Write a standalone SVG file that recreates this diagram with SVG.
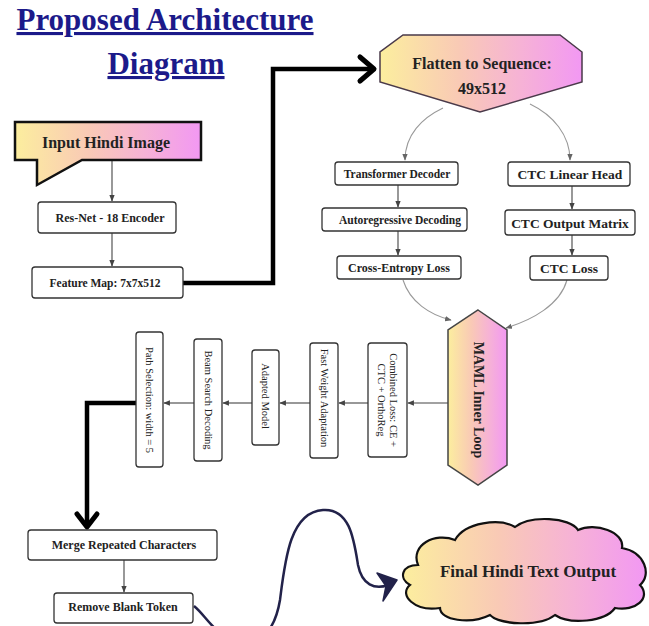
<svg xmlns="http://www.w3.org/2000/svg" width="649" height="626" viewBox="0 0 649 626">
<style>
.t{font-family:"Liberation Serif","Times New Roman",serif;font-weight:bold;fill:#222;text-anchor:middle;dominant-baseline:central}
.v{font-family:"Liberation Serif","Times New Roman",serif;font-size:10.5px;fill:#222;text-anchor:middle;dominant-baseline:central}
.box{fill:#fff;stroke:#333;stroke-width:1.3}
.c{fill:none;stroke:#444;stroke-width:1.1}
.g{fill:none;stroke:#999;stroke-width:1.1}
.thick{fill:none;stroke:#000;stroke-width:4.5;stroke-linejoin:miter}
.head{fill:none;stroke:#000;stroke-width:5;stroke-linecap:round;stroke-linejoin:round}
</style>
<defs>
<linearGradient id="grad" x1="0" y1="0" x2="1" y2="0">
<stop offset="0" stop-color="#fcee9e"/>
<stop offset="0.4" stop-color="#f9c9b6"/>
<stop offset="0.7" stop-color="#f6b2d6"/>
<stop offset="1" stop-color="#f298f3"/>
</linearGradient>
<marker id="a" viewBox="0 0 10 10" refX="9" refY="5" markerWidth="6" markerHeight="6" orient="auto">
<path d="M0,1 L10,5 L0,9 Z" fill="#444"/>
</marker>
<marker id="ag" viewBox="0 0 10 10" refX="9" refY="5" markerWidth="6" markerHeight="6" orient="auto">
<path d="M0,1 L10,5 L0,9 Z" fill="#666"/>
</marker>
</defs>
<rect width="649" height="626" fill="#fff"/>
<g id="title">
<text x="165" y="30" style="font-family:'Liberation Serif',serif;font-weight:bold;font-size:31px;fill:#1c1a8a;text-decoration:underline;text-anchor:middle">Proposed Architecture</text>
<text x="166" y="74" style="font-family:'Liberation Serif',serif;font-weight:bold;font-size:31px;fill:#1c1a8a;text-decoration:underline;text-anchor:middle">Diagram</text>
</g>
<g id="connectors">
<line class="c" x1="112" y1="160" x2="112" y2="201" marker-end="url(#a)"/>
<line class="c" x1="112" y1="233" x2="112" y2="266" marker-end="url(#a)"/>
<polyline class="thick" points="183,283 273,283 273,69 372,69"/>
<path class="head" d="M360,57 L374,69 L360,81"/>
<path class="g" d="M443,108 C422,118 405,135 405,160" marker-end="url(#ag)"/>
<path class="g" d="M530,104 C553,115 570,135 570,160" marker-end="url(#ag)"/>
<line class="c" x1="398" y1="185" x2="398" y2="207" marker-end="url(#a)"/>
<line class="c" x1="398" y1="231" x2="398" y2="255" marker-end="url(#a)"/>
<line class="c" x1="572" y1="186" x2="572" y2="209" marker-end="url(#a)"/>
<line class="c" x1="572" y1="235" x2="572" y2="255" marker-end="url(#a)"/>
<path class="g" d="M403,280 C410,302 430,315 451,320" marker-end="url(#ag)"/>
<path class="g" d="M567,280 C560,305 532,320 506,328" marker-end="url(#ag)"/>
<line class="c" x1="448" y1="403" x2="408" y2="403" marker-end="url(#a)"/>
<line class="c" x1="368" y1="403" x2="339" y2="403" marker-end="url(#a)"/>
<line class="c" x1="310" y1="403" x2="280" y2="403" marker-end="url(#a)"/>
<line class="c" x1="252" y1="403" x2="223" y2="403" marker-end="url(#a)"/>
<line class="c" x1="194" y1="403" x2="164" y2="403" marker-end="url(#a)"/>
<polyline class="thick" points="136,403 87,403 87,526"/>
<path class="head" d="M77,514 L87,527 L97,514"/>
<line class="c" x1="124" y1="560" x2="124" y2="592" marker-end="url(#a)"/>
<path d="M194,606 C205,615 212,630 230,640 C260,650 275,630 280,600 C285,560 290,512 323,510 C350,508 354,540 358,565 C362,585 375,590 388,585" fill="none" stroke="#22224a" stroke-width="2.5"/>
<path d="M377,573 L397,580 L383,601 L386,586 Z" fill="#22224a" stroke="#22224a" stroke-width="1.5" stroke-linejoin="round"/>
</g>
<g id="input">
<path d="M15,122 L201,122 L201,160 L82,160 L37,185 L37,160 L15,160 Z" fill="url(#grad)" stroke="#111" stroke-width="2.5"/>
<text class="t" x="106" y="142" font-size="16">Input Hindi Image</text>
</g>
<g id="resnet">
<rect class="box" x="38" y="202" width="138" height="31" rx="3"/>
<text class="t" x="110" y="218" font-size="12">Res-Net - 18 Encoder</text>
</g>
<g id="featuremap">
<rect class="box" x="32" y="267" width="151" height="31" rx="3"/>
<text class="t" x="105" y="283" font-size="11.5">Feature Map: 7x7x512</text>
</g>
<g id="flatten">
<path d="M403,35 L560,35 L582,52 L582,82 L480,112 L380,82 L380,52 Z" fill="url(#grad)" stroke="#4a3a4a" stroke-width="1.5"/>
<text class="t" x="482" y="63" font-size="16">Flatten to Sequence:</text>
<text class="t" x="482" y="88" font-size="16">49x512</text>
</g>
<g id="transformer">
<rect class="box" x="335" y="162" width="123" height="23" rx="3"/>
<text class="t" x="397" y="174" font-size="11.5">Transformer Decoder</text>
</g>
<g id="autoregressive">
<rect class="box" x="322" y="208" width="145" height="23" rx="3"/>
<text class="t" x="400" y="220" font-size="11.5">Autoregressive Decoding</text>
</g>
<g id="crossentropy">
<rect class="box" x="337" y="256" width="124" height="23" rx="3"/>
<text class="t" x="399" y="268" font-size="12">Cross-Entropy Loss</text>
</g>
<g id="ctclinear">
<rect class="box" x="508" y="162" width="122" height="24" rx="3"/>
<text class="t" x="570" y="174" font-size="13.5">CTC Linear Head</text>
</g>
<g id="ctcoutput">
<rect class="box" x="505" y="210" width="130" height="25" rx="3"/>
<text class="t" x="570" y="223" font-size="13.5">CTC Output Matrix</text>
</g>
<g id="ctcloss">
<rect class="box" x="530" y="256" width="78" height="24" rx="3"/>
<text class="t" x="569" y="268" font-size="13.5">CTC Loss</text>
</g>
<g id="maml">
<path d="M478,310 L507,330 L507,465 L478,485 L448,465 L448,330 Z" fill="url(#grad)" stroke="#444" stroke-width="1.5"/>
<text class="t" font-size="14" transform="translate(478,400) rotate(90)">MAML Inner Loop</text>
</g>
<g id="combined">
<rect class="box" x="368" y="343" width="39" height="114" rx="3"/>
<text class="v" transform="translate(387.5,400) rotate(90)"><tspan x="0" y="-6">Combined Loss: CE +</tspan><tspan x="0" y="6">CTC + OrthoReg</tspan></text>
</g>
<g id="fastweight">
<rect class="box" x="310" y="343" width="28" height="115" rx="3"/>
<text class="v" transform="translate(324,398) rotate(90)">Fast Weight Adaptation</text>
</g>
<g id="adapted">
<rect class="box" x="252" y="350" width="27" height="95" rx="3"/>
<text class="v" transform="translate(265.5,396) rotate(90)">Adapted Model</text>
</g>
<g id="beam">
<rect class="box" x="194" y="339" width="28" height="122" rx="3"/>
<text class="v" transform="translate(208,400) rotate(90)">Beam Search Decoding</text>
</g>
<g id="path">
<rect class="box" x="136" y="332" width="27" height="135" rx="3"/>
<text class="v" transform="translate(149.5,400) rotate(90)">Path Selection: width = 5</text>
</g>
<g id="merge">
<rect class="box" x="28" y="530" width="189" height="30" rx="3"/>
<text class="t" x="124" y="545" font-size="12">Merge Repeated Characters</text>
</g>
<g id="removeblank">
<rect class="box" x="54" y="593" width="139" height="30" rx="3"/>
<text class="t" x="123" y="607" font-size="12">Remove Blank Token</text>
</g>
<g id="final">
<path d="M418,565 C410,545 435,532 455,540 C465,522 500,518 515,527 C530,515 570,517 578,530 C595,522 625,532 622,548 C645,552 652,575 640,585 C652,598 635,612 615,608 C605,622 570,625 555,615 C540,627 500,625 490,615 C470,625 440,620 440,608 C415,612 398,595 410,585 C398,578 402,565 418,565 Z" fill="url(#grad)" stroke="#111" stroke-width="2.2"/>
<text class="t" x="528" y="571" font-size="17">Final Hindi Text Output</text>
</g>
</svg>
